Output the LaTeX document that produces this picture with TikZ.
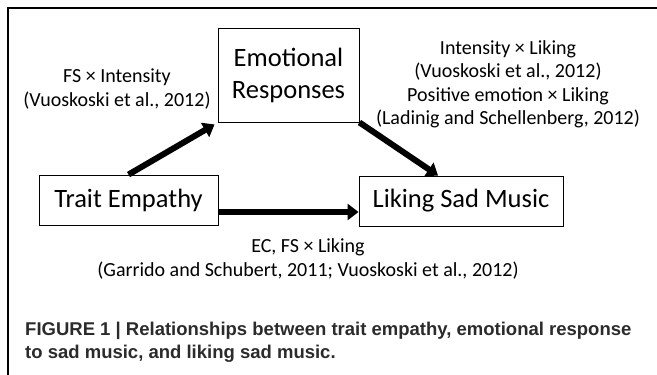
\documentclass[tikz,border=0pt]{standalone}
\usepackage{fontspec}
\setmainfont{Carlito}
\newfontfamily\capfont{Liberation Sans}
\usepackage{tikz}
\usetikzlibrary{arrows.meta, positioning}
\definecolor{capgray}{HTML}{2B2B2B}

\begin{document}
\begin{tikzpicture}[x=1pt, y=1pt,
  varbox/.style={rectangle, draw=black, line width=0.9pt, fill=white,
    font=\fontsize{26.5}{32}\selectfont, align=center, inner sep=0pt},
  pathlabel/.style={font=\fontsize{20}{23.5}\selectfont, align=center},
  link/.style={line width=6pt, -{Triangle[length=11pt, width=16pt]}},
]
  \useasboundingbox (0,0) rectangle (657,375);
  % frame
  \draw[line width=2.5pt] (8,0) -- (8,367) -- (657,367);

  % variables
  \node[varbox, minimum width=141pt, minimum height=94pt] (emo) at (288.5,300) {Emotional\\Responses};
  \node[varbox, minimum width=179pt, minimum height=50pt] (trait) at (128.5,175) {Trait Empathy};
  \node[varbox, minimum width=204pt, minimum height=50pt] (liking) at (461,174) {Liking Sad Music};

  % paths
  \draw[link] (trait.north) -- ([shift={(-3pt,-2pt)}]emo.south west);
  \draw[link] (emo.south east) -- ([xshift=-23pt]liking.north);
  \draw[link] ([yshift=-12pt]trait.east) -- ([yshift=-11pt]liking.west);

  % path labels
  \node[pathlabel] (lbl1) at (117,286) {FS × Intensity\\(Vuoskoski et al., 2012)};
  \node[pathlabel] (lbl2) at (508,290.5) {Intensity × Liking\\(Vuoskoski et al., 2012)\\Positive emotion × Liking\\(Ladinig and Schellenberg, 2012)};
  \node[pathlabel] (lbl3) at (308,116) {EC, FS × Liking\\(Garrido and Schubert, 2011; Vuoskoski et al., 2012)};

  % caption
  \node[anchor=north west, align=left, text=capgray, inner sep=0pt,
    font=\capfont\bfseries\fontsize{18.5}{23}\selectfont] (cap) at (25,53)
    {FIGURE 1 | Relationships between trait empathy, emotional response\\to sad music, and liking sad music.};
\end{tikzpicture}
\end{document}
